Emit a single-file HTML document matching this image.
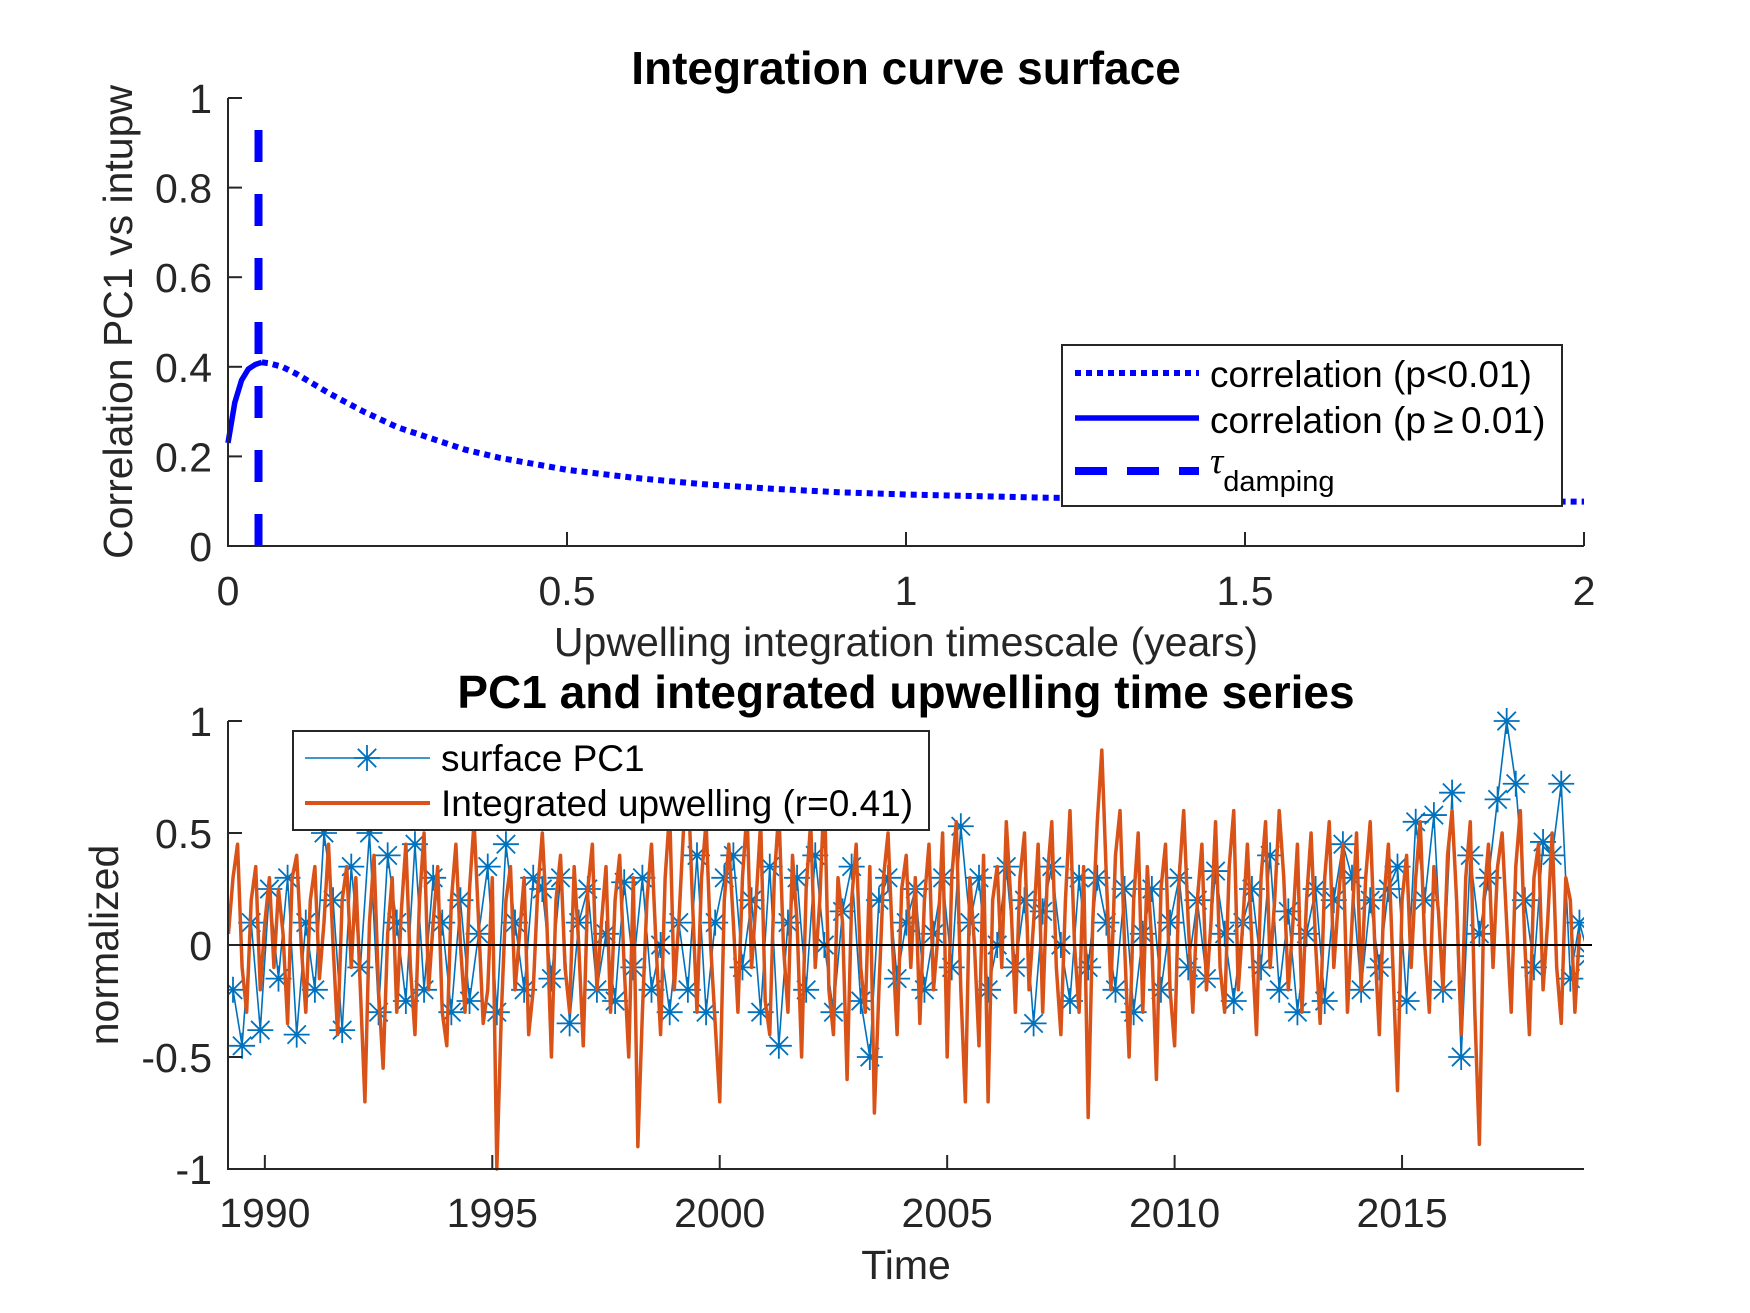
<!DOCTYPE html>
<html><head><meta charset="utf-8"><style>
html,body{margin:0;padding:0;background:#fff;}
svg{display:block;font-family:"Liberation Sans",sans-serif;}
</style></head><body>
<svg id="fig" width="1750" height="1313" viewBox="0 0 1750 1313">
<rect width="1750" height="1313" fill="#fff"/>
<g id="topAx"></g>
<g id="botAx"></g>
</svg>
<script>
// ---- top chart data ----
const tauX = [0,0.01,0.02,0.03,0.04,0.05,0.06,0.08,0.1,0.15,0.2,0.25,0.3,0.35,0.4,0.5,0.6,0.7,0.8,0.9,1.0,1.2,1.4,1.6,1.8,2.0];
const corrR = [0.23,0.32,0.37,0.395,0.405,0.41,0.408,0.40,0.385,0.34,0.30,0.265,0.24,0.215,0.197,0.17,0.152,0.138,0.128,0.12,0.115,0.108,0.104,0.102,0.1,0.099];
const sigFrom = 0.05;
const tauDamping = 0.045;
const topXTicks = [0,0.5,1,1.5,2];
const topXLabels = ["0","0.5","1","1.5","2"];
const topYTicks = [0,0.2,0.4,0.6,0.8,1];
const topYLabels = ["0","0.2","0.4","0.6","0.8","1"];
// ---- bottom chart data ----
const upwStart = 1989.2, upwStep = 0.1;
const upwValues = [0.05,0.3,0.45,-0.1,-0.3,0.2,0.35,-0.2,0.1,0.3,
-0.1,0.25,0.05,-0.35,0.3,0.4,0.0,-0.3,0.2,0.35,
-0.15,0.1,0.45,0.0,-0.4,0.2,0.35,-0.1,0.3,-0.2,
-0.7,0.1,0.4,-0.2,-0.55,0.05,0.3,-0.3,0.15,0.45,
-0.1,-0.4,0.2,0.5,-0.2,0.1,0.35,-0.3,-0.45,0.2,
0.45,0.0,-0.3,0.25,0.55,0.1,-0.35,-0.2,0.3,-1.0,
-0.3,0.2,0.35,-0.2,0.05,0.3,-0.4,-0.2,0.25,0.5,
0.1,-0.5,0.2,0.4,-0.1,-0.3,0.35,0.0,-0.45,0.25,
0.45,-0.2,0.1,0.35,-0.3,0.2,0.4,-0.1,-0.5,0.3,
-0.9,-0.3,0.2,0.45,0.0,-0.4,0.3,0.6,-0.2,0.1,
0.5,0.75,0.2,-0.3,0.3,0.55,0.0,-0.35,-0.7,0.2,
0.45,0.1,-0.3,0.3,0.6,-0.1,0.2,0.55,-0.25,-0.4,
0.3,0.6,0.0,-0.3,0.4,0.1,-0.5,0.25,0.55,-0.1,
0.2,0.7,-0.2,-0.4,0.3,0.1,-0.6,0.2,0.45,-0.1,
-0.3,0.35,-0.75,-0.2,0.3,0.5,0.0,-0.4,0.25,0.4,
-0.1,0.3,-0.35,0.2,0.45,-0.2,0.05,0.5,-0.5,0.3,
0.55,-0.2,-0.7,0.3,0.0,-0.45,0.4,-0.7,0.2,0.35,
-0.1,0.55,0.2,-0.3,0.3,0.5,-0.2,0.1,0.45,-0.3,
0.3,0.55,-0.1,-0.4,0.2,0.6,0.0,-0.3,0.35,-0.77,
0.1,0.55,0.87,0.3,-0.2,0.4,0.6,0.0,-0.5,0.2,
0.5,-0.3,0.35,0.0,-0.6,0.25,0.45,-0.2,-0.45,0.3,
0.6,0.1,-0.3,0.2,0.45,-0.2,0.1,0.55,-0.1,-0.3,
0.35,0.6,-0.2,0.1,0.45,0.0,-0.4,0.3,0.55,-0.1,
0.2,0.6,0.3,-0.2,0.1,0.45,-0.3,0.2,0.5,0.0,
-0.35,0.3,0.55,-0.1,0.2,0.45,-0.3,0.1,0.5,-0.2,
0.3,0.55,0.0,-0.4,0.2,0.45,-0.1,-0.65,0.2,0.4,
-0.1,0.3,0.55,0.0,-0.3,0.35,0.15,-0.2,0.4,0.6,
0.2,-0.4,0.3,0.55,-0.3,-0.89,0.2,0.45,-0.1,0.35,
0.5,0.1,-0.3,0.35,0.6,0.0,-0.4,0.3,0.45,-0.2,
0.1,0.5,-0.1,-0.35,0.3,0.2,-0.3,0.05];
const pcStart = 1989.3, pcStep = 0.2;
const pcValues = [-0.2,-0.45,0.1,-0.38,0.25,
-0.15,0.3,-0.4,0.1,-0.2,
0.5,0.2,-0.38,0.35,-0.1,
0.5,-0.3,0.4,0.1,-0.25,
0.45,-0.2,0.3,0.1,-0.3,
0.2,-0.25,0.05,0.35,-0.3,
0.45,0.1,-0.2,0.3,0.25,
-0.15,0.3,-0.35,0.1,0.25,
-0.2,0.05,-0.25,0.28,-0.1,
0.3,-0.2,0.0,-0.3,0.1,
-0.2,0.4,-0.3,0.1,0.3,
0.4,-0.1,0.2,-0.3,0.35,
-0.45,0.1,0.3,-0.2,0.4,
0.0,-0.3,0.15,0.35,-0.25,
-0.5,0.2,0.3,-0.15,0.1,
0.25,-0.2,0.05,0.3,-0.1,
0.53,0.1,0.3,-0.2,0.0,
0.35,-0.1,0.2,-0.35,0.15,
0.35,0.0,-0.25,0.3,-0.1,
0.3,0.1,-0.2,0.25,-0.3,
0.05,0.25,-0.2,0.1,0.3,
-0.1,0.2,-0.15,0.33,0.05,
-0.25,0.1,0.25,-0.1,0.4,
-0.2,0.15,-0.3,0.05,0.25,
-0.25,0.2,0.45,0.3,-0.2,
0.2,-0.1,0.25,0.35,-0.25,
0.55,0.2,0.58,-0.2,0.68,
-0.5,0.4,0.05,0.3,0.65,
1.0,0.72,0.2,-0.1,0.46,
0.4,0.72,-0.15,0.1,-0.05];
const botXTicks = [1990,1995,2000,2005,2010,2015];
const botXLabels = ["1990","1995","2000","2005","2010","2015"];
const botYTicks = [-1,-0.5,0,0.5,1];
const botYLabels = ["-1","-0.5","0","0.5","1"];

const NS="http://www.w3.org/2000/svg";
function mk(parent,tag,attrs,text){const el=document.createElementNS(NS,tag);for(const k in attrs)el.setAttribute(k,attrs[k]);if(text!==undefined)el.textContent=text;parent.appendChild(el);return el;}
const L=228,R=1584;
const TF=41, TTF=46, LF=37;
// ---------- TOP ----------
const topG=document.getElementById('topAx');
const tT=98,tB=546;
const tx=v=>L+(v-0)/(2-0)*(R-L);
const ty=v=>tB-(v-0)/(1-0)*(tB-tT);
let e;
let solidPts=[],dotPts=[];
for(let i=0;i<tauX.length;i++){
  if(tauX[i]<=sigFrom) solidPts.push(tx(tauX[i])+','+ty(corrR[i]));
  if(tauX[i]>=sigFrom) dotPts.push(tx(tauX[i])+','+ty(corrR[i]));
}
e=mk(topG,'polyline',{points:solidPts.join(' '),fill:'none',stroke:'#0000ff','stroke-width':5.5});


e=mk(topG,'polyline',{points:dotPts.join(' '),fill:'none',stroke:'#0000ff','stroke-width':6,'stroke-dasharray':'6 5'});


e=mk(topG,'line',{x1:tx(tauDamping),x2:tx(tauDamping),y1:ty(0),y2:ty(0.93),stroke:'#0000ff','stroke-width':8,'stroke-dasharray':'32 32'});


e=mk(topG,'path',{d:`M${L},${tT}V${tB}H${R}`,fill:'none',stroke:'#262626','stroke-width':2});


topXTicks.forEach((v,i)=>{
  mk(topG,'line',{x1:tx(v),x2:tx(v),y1:tB,y2:tB-14,stroke:'#262626','stroke-width':2});
  const t=mk(topG,'text',{x:tx(v),y:605,'font-size':TF,fill:'#262626','text-anchor':'middle'},topXLabels[i]);
  
  
});
topYTicks.forEach((v,i)=>{
  mk(topG,'line',{x1:L,x2:L+14,y1:ty(v),y2:ty(v),stroke:'#262626','stroke-width':2});
  const t=mk(topG,'text',{x:212,y:ty(v)+15,'font-size':TF,fill:'#262626','text-anchor':'end'},topYLabels[i]);
  
  
});
e=mk(topG,'text',{x:906,y:84,'font-size':TTF,'font-weight':'bold','text-anchor':'middle',fill:'#000'},'Integration curve surface');


e=mk(topG,'text',{x:906,y:656,'font-size':TF,'text-anchor':'middle',fill:'#262626'},'Upwelling integration timescale (years)');


e=mk(topG,'text',{x:0,y:0,'font-size':TF,'text-anchor':'middle',fill:'#262626',transform:'translate(132,322) rotate(-90)'},'Correlation PC1 vs intupw');


const lg=mk(topG,'g',{});


mk(lg,'rect',{x:1062,y:345,width:500,height:161,fill:'#fff',stroke:'#262626','stroke-width':2});
mk(lg,'line',{x1:1075,x2:1199,y1:373,y2:373,stroke:'#0000ff','stroke-width':6,'stroke-dasharray':'6 5'});
mk(lg,'line',{x1:1075,x2:1199,y1:418,y2:418,stroke:'#0000ff','stroke-width':5.5});
mk(lg,'line',{x1:1075,x2:1199,y1:471,y2:471,stroke:'#0000ff','stroke-width':8,'stroke-dasharray':'32 20'});
mk(lg,'text',{x:1210,y:387,'font-size':LF,fill:'#000'},'correlation (p<0.01)');
mk(lg,'text',{x:1210,y:433,'font-size':LF,fill:'#000'},'correlation (p\u2009\u2265\u20090.01)');
const tt=mk(lg,'text',{x:1210,y:473,'font-size':LF,fill:'#000'});
mk(tt,'tspan',{'font-family':'"Liberation Serif",serif','font-style':'italic'},'\u03c4');
mk(tt,'tspan',{'font-size':29,dy:18},'damping');

// ---------- BOTTOM ----------
const botG=document.getElementById('botAx');
const bT=721,bB=1169;
const x0=1989.19,x1=2019.0;
const bx=v=>L+(v-x0)/(x1-x0)*(R-L);
const by=v=>bB-(v+1)/2*(bB-bT);
const defs=mk(botG,'defs',{});
const cp=mk(defs,'clipPath',{id:'bc'});
mk(cp,'rect',{x:L,y:bT-14,width:R-L,height:bB-bT+28});
const plot=mk(botG,'g',{'clip-path':'url(#bc)'});
let pcPts=pcValues.map((v,i)=>bx(pcStart+i*pcStep)+','+by(v));
e=mk(plot,'polyline',{points:pcPts.join(' '),fill:'none',stroke:'#0072BD','stroke-width':1.6});


function star(g,cx,cy,r){
  const a=r*0.707;
  return mk(g,'path',{d:`M${cx-r},${cy}H${cx+r}M${cx},${cy-r}V${cy+r}M${cx-a},${cy-a}L${cx+a},${cy+a}M${cx-a},${cy+a}L${cx+a},${cy-a}`,stroke:'#0072BD','stroke-width':1.8,fill:'none'});
}
pcValues.forEach((v,i)=>{
  const s=star(plot,bx(pcStart+i*pcStep),by(v),13);
  
  
});
let upPts=upwValues.map((v,i)=>bx(upwStart+i*upwStep)+','+by(v));
e=mk(plot,'polyline',{points:upPts.join(' '),fill:'none',stroke:'#D95319','stroke-width':3.5,'stroke-linejoin':'round'});


e=mk(botG,'line',{x1:L,x2:1592,y1:by(0),y2:by(0),stroke:'#000','stroke-width':2});


e=mk(botG,'path',{d:`M${L},${bT}V${bB}H${R}`,fill:'none',stroke:'#262626','stroke-width':2});


botXTicks.forEach((v,i)=>{
  mk(botG,'line',{x1:bx(v),x2:bx(v),y1:bB,y2:bB-14,stroke:'#262626','stroke-width':2});
  const t=mk(botG,'text',{x:bx(v),y:1227,'font-size':TF,fill:'#262626','text-anchor':'middle'},botXLabels[i]);
  
  
});
botYTicks.forEach((v,i)=>{
  mk(botG,'line',{x1:L,x2:L+14,y1:by(v),y2:by(v),stroke:'#262626','stroke-width':2});
  const t=mk(botG,'text',{x:212,y:by(v)+15,'font-size':TF,fill:'#262626','text-anchor':'end'},botYLabels[i]);
  
  
});
e=mk(botG,'text',{x:906,y:708,'font-size':TTF,'font-weight':'bold','text-anchor':'middle',fill:'#000'},'PC1 and integrated upwelling time series');


e=mk(botG,'text',{x:906,y:1279,'font-size':TF,'text-anchor':'middle',fill:'#262626'},'Time');


e=mk(botG,'text',{x:0,y:0,'font-size':TF,'text-anchor':'middle',fill:'#262626',transform:'translate(118,945) rotate(-90)'},'normalized');


const lg2=mk(botG,'g',{});


mk(lg2,'rect',{x:293,y:731,width:636,height:99,fill:'#fff',stroke:'#262626','stroke-width':2});
mk(lg2,'line',{x1:305,x2:430,y1:758,y2:758,stroke:'#0072BD','stroke-width':1.6});
star(lg2,367,758,13);
mk(lg2,'line',{x1:305,x2:430,y1:803,y2:803,stroke:'#D95319','stroke-width':4});
mk(lg2,'text',{x:441,y:771,'font-size':LF,fill:'#000'},'surface PC1');
mk(lg2,'text',{x:441,y:816,'font-size':LF,fill:'#000'},'Integrated upwelling (r=0.41)');
</script>
</body></html>
